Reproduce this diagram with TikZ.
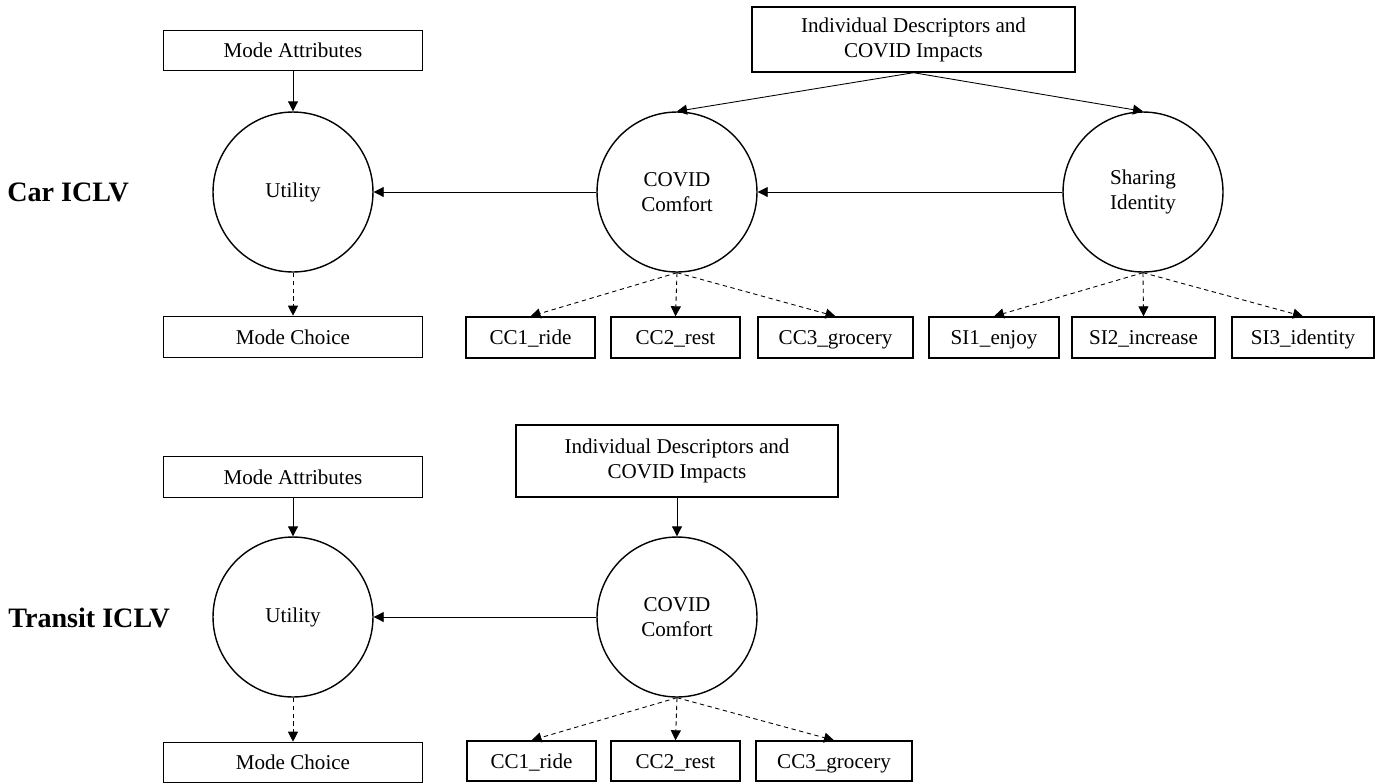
\documentclass[tikz,border=0pt]{standalone}
\usepackage{fontspec}
\setmainfont{Liberation Serif}
\usetikzlibrary{positioning,arrows.meta}

\begin{document}
\begin{tikzpicture}[
        x=0.02cm, y=-0.02cm,
        every node/.style={font=\fontsize{12}{14.2}\selectfont},
        box/.style={draw, line width=0.8pt, minimum height=0.82cm, inner sep=2pt, align=center},
        onebox/.style={box, text height=2.1ex, text depth=0.3ex},
        modebox/.style={onebox, minimum width=5.18cm},
        latent/.style={draw, circle, line width=0.8pt, minimum size=3.2cm, inner sep=0pt, align=center},
        modeltitle/.style={font=\fontsize{16}{19}\selectfont\bfseries, anchor=west, inner sep=0pt},
        arrow/.style={-{Triangle[length=0.2cm,width=0.2cm]}, line width=0.5pt},
        indicator/.style={arrow, dash pattern=on 2.5pt off 2pt}
    ]
    \useasboundingbox (0,0) rectangle (1382,782);

    % Car ICLV
    \node[modeltitle] (cartitle) at (7,192) {Car ICLV};
    \node[latent] (util1) at (293,192) {Utility};
    \node[latent] (covid1) at (677,192) {COVID\\Comfort};
    \node[latent] (share1) at (1143,192) {Sharing\\Identity};
    \node[modebox, minimum height=0.8cm, above=0.8cm of util1] (attr1) {Mode Attributes};
    \node[modebox, below=0.86cm of util1] (choice1) {Mode Choice};
    \node[box, minimum width=6.46cm, minimum height=1.3cm] (indiv1) at (913.5,39.5)
    {Individual Descriptors and\\COVID Impacts};

    \node[onebox, minimum width=2.58cm] (cc1a) at (530.5,337.5) {CC1\_ride};
    \node[onebox, minimum width=2.58cm] (cc2a) at (675.5,337.5) {CC2\_rest};
    \node[onebox, minimum width=3.1cm] (cc3a) at (835.5,337.5) {CC3\_grocery};
    \node[onebox, minimum width=2.6cm] (si1) at (994,337.5) {SI1\_enjoy};
    \node[onebox, minimum width=2.86cm] (si2) at (1143.5,337.5) {SI2\_increase};
    \node[onebox, minimum width=2.84cm] (si3) at (1303,337.5) {SI3\_identity};

    \draw[arrow] (attr1) -- (util1);
    \draw[indicator] (util1) -- (choice1);
    \draw[arrow] (covid1) -- (util1);
    \draw[arrow] (share1) -- (covid1);
    \draw[arrow] (indiv1.south) -- (covid1.north);
    \draw[arrow] (indiv1.south) -- (share1.north);
    \draw[indicator] (covid1.south) -- (cc1a.north);
    \draw[indicator] (covid1.south) -- (cc2a.north);
    \draw[indicator] (covid1.south) -- (cc3a.north);
    \draw[indicator] (share1.south) -- (si1.north);
    \draw[indicator] (share1.south) -- (si2.north);
    \draw[indicator] (share1.south) -- (si3.north);

    % Transit ICLV
    \node[modeltitle] (transittitle) at (8,618) {Transit ICLV};
    \node[latent] (util2) at (293,617) {Utility};
    \node[latent] (covid2) at (677,617) {COVID\\Comfort};
    \node[modebox, minimum height=0.82cm, above=0.76cm of util2] (attr2) {Mode Attributes};
    \node[modebox, minimum height=0.8cm, below=0.88cm of util2] (choice2) {Mode Choice};
    \node[box, minimum width=6.44cm, minimum height=1.44cm] (indiv2) at (677,461)
    {Individual Descriptors and\\COVID Impacts};

    \node[onebox, minimum width=2.58cm, minimum height=0.8cm] (cc1b) at (531.5,761) {CC1\_ride};
    \node[onebox, minimum width=2.58cm, minimum height=0.8cm] (cc2b) at (675.5,761) {CC2\_rest};
    \node[onebox, minimum width=3.12cm, minimum height=0.8cm] (cc3b) at (834,761) {CC3\_grocery};

    \draw[arrow] (attr2) -- (util2);
    \draw[indicator] (util2) -- (choice2);
    \draw[arrow] (covid2) -- (util2);
    \draw[arrow] (indiv2) -- (covid2);
    \draw[indicator] (covid2.south) -- (cc1b.north);
    \draw[indicator] (covid2.south) -- (cc2b.north);
    \draw[indicator] (covid2.south) -- (cc3b.north);

\end{tikzpicture}
\end{document}
